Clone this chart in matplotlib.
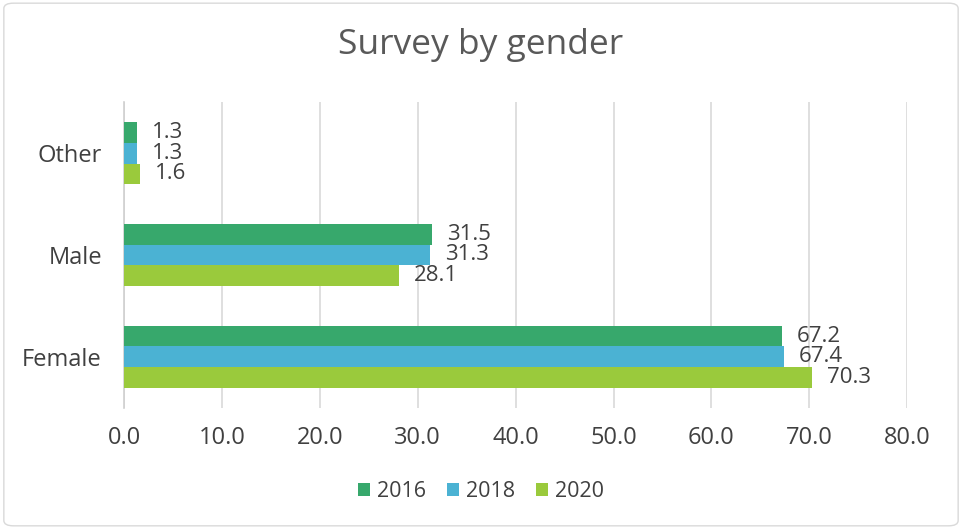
import matplotlib
matplotlib.use("Agg")
import matplotlib.pyplot as plt
import numpy as np
from matplotlib.patches import FancyBboxPatch

# ── Data ─────────────────────────────────────────────────────────────
genders = ["Female", "Male", "Other"]
years = ["2016", "2018", "2020"]
share_2016 = [67.2, 31.5, 1.3]
share_2018 = [67.4, 31.3, 1.3]
share_2020 = [70.3, 28.1, 1.6]
xticks = [0, 10, 20, 30, 40, 50, 60, 70, 80]

colors = ["#37A86C", "#4BB2D3", "#9ACA3C"]
text_color = "#404040"

plt.rcParams["font.family"] = ["Open Sans", "DejaVu Sans"]

fig = plt.figure(figsize=(9.62, 5.29), dpi=100)
ax = fig.add_axes([0.129, 0.229, 0.814, 0.578])

y = np.arange(len(genders))
h = 0.205
series = [share_2016, share_2018, share_2020]
offsets = [h, 0, -h]
for vals, off, col, yr in zip(series, offsets, colors, years):
    bars = ax.barh(y + off, vals, height=h, color=col, label=yr, zorder=3)
    for b, v in zip(bars, vals):
        ax.text(v + 1.5, b.get_y() + h / 2, f"{v:.1f}", va="center",
                ha="left", fontsize=16, color=text_color, zorder=4)

ax.set_xlim(0, 80)
ax.set_ylim(-0.5, 2.5)
ax.set_xticks(xticks)
ax.set_xticklabels([f"{t:.1f}" for t in xticks], fontsize=17, color=text_color)
ax.set_yticks(y)
ax.set_yticklabels(genders, fontsize=17, color=text_color)
ax.tick_params(axis="x", length=0, pad=13)
ax.tick_params(axis="y", length=0, pad=16)
ax.grid(axis="x", color="#d9d9d9", linewidth=1.2, zorder=0)
for s in ["top", "right", "bottom"]:
    ax.spines[s].set_visible(False)
ax.spines["left"].set_color("#d0d0d0")
ax.spines["left"].set_linewidth(1.2)

fig.text(0.5, 0.915, "Survey by gender", ha="center", va="center",
         fontsize=25.5, color="#595959")

handles, labels = ax.get_legend_handles_labels()
fig.legend(handles, labels, loc="center", bbox_to_anchor=(0.5, 0.07), ncol=3,
           frameon=False, fontsize=15.5, handlelength=0.55, handleheight=0.55,
           handletextpad=0.3, columnspacing=1.0, labelcolor=text_color)

# thin outer border around the chart
border = FancyBboxPatch((0.004, 0.006), 0.992, 0.988,
                        boxstyle="round,pad=0,rounding_size=0.01",
                        transform=fig.transFigure, fill=False,
                        edgecolor="#d9d9d9", linewidth=1.0)
fig.patches.append(border)

fig.savefig("out.png", dpi=100)
